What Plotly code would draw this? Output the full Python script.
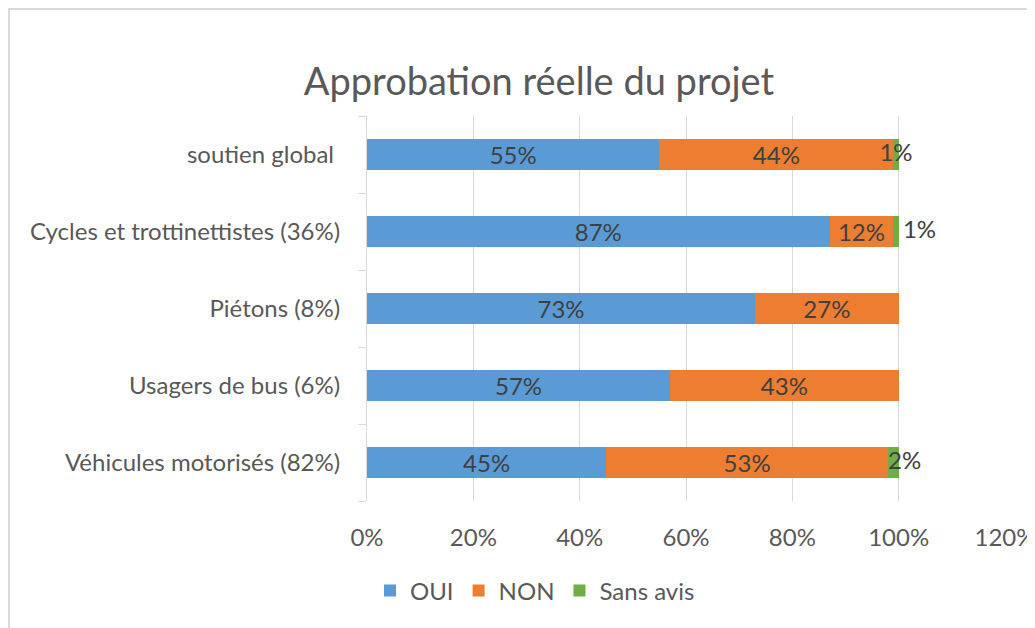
import plotly.graph_objects as go

categories = [
    "Véhicules motorisés (82%)",
    "Usagers de bus (6%)",
    "Piétons (8%)",
    "Cycles et trottinettistes (36%)",
    "soutien global ",
]
oui = [45, 57, 73, 87, 55]
non = [53, 43, 27, 12, 44]
sans_avis = [2, 0, 0, 1, 1]
x_ticks = [0, 20, 40, 60, 80, 100, 120]

BLUE = "#5B9BD5"
ORANGE = "#ED7D31"
GREEN = "#70AD47"
GRID = "#D9D9D9"
TXT = "#404040"
LBL = "#595959"
FONT = "Lato"

# page body keeps an 8px margin, so the figure is placed 8px in
W, H = 1045, 620
ML, MR, MT, MB = 359, 48, 108, 127

fig = go.Figure()
for name, vals, col in [("OUI", oui, BLUE), ("NON", non, ORANGE)]:
    fig.add_trace(go.Bar(
        y=categories, x=vals, name=name, orientation="h",
        marker=dict(color=col, line=dict(width=0)),
        text=[f"{v}%" for v in vals], textposition="inside",
        insidetextanchor="middle", constraintext="none",
        textfont=dict(family=FONT, size=24, color=TXT),
    ))
fig.add_trace(go.Bar(
    y=categories, x=sans_avis, name="Sans avis", orientation="h",
    marker=dict(color=GREEN, line=dict(width=0)),
    textposition="none",
))

# labels for the thin "Sans avis" segments
lbl_x, lbl_y, lbl_t, lbl_pos = [], [], [], []
for c, o, n, s in zip(categories, oui, non, sans_avis):
    if s == 0:
        continue
    if c.startswith("soutien"):
        lbl_x.append(o + n + s / 2)
        lbl_pos.append("middle center")
    elif c.startswith("Cycles"):
        lbl_x.append(o + n + s + 0.8)
        lbl_pos.append("middle right")
    else:
        lbl_x.append(o + n)
        lbl_pos.append("middle right")
    lbl_y.append(c)
    lbl_t.append(f"{s}%")
fig.add_trace(go.Scatter(
    x=lbl_x, y=lbl_y, text=lbl_t, mode="text", textposition=lbl_pos,
    textfont=dict(family=FONT, size=24, color=TXT),
    showlegend=False, hoverinfo="skip",
))

pw = W - ML - MR
ph = H - MT - MB
fig.add_shape(
    type="rect", xref="paper", yref="paper",
    x0=(1 - ML) / pw, x1=(W + 20 - ML) / pw,
    y0=-(H + 20 - MT - ph) / ph, y1=1 + (MT - 1) / ph,
    line=dict(color=GRID, width=2), layer="below",
)

fig.update_layout(
    width=W, height=H,
    barmode="stack", bargap=0.61,
    paper_bgcolor="white", plot_bgcolor="white",
    margin=dict(l=ML, r=MR, t=MT, b=MB),
    font=dict(family=FONT, color=LBL, size=24),
    title=dict(
        text="Approbation réelle du projet", x=(539 - 8) / W, xanchor="center",
        xref="container", y=1 - 74 / H, yanchor="middle",
        font=dict(family=FONT, size=38, color=LBL),
    ),
    xaxis=dict(
        range=[0, 120], tickvals=x_ticks,
        ticktext=[f"{v}%" for v in x_ticks],
        showgrid=True, gridcolor=GRID, gridwidth=1,
        zeroline=False, showline=False, ticks="",
        ticklabelstandoff=20,
        tickfont=dict(family=FONT, size=24, color=LBL),
        fixedrange=True,
    ),
    yaxis=dict(
        categoryorder="array", categoryarray=categories,
        showline=True, linecolor=GRID, linewidth=1,
        ticks="outside", tickson="boundaries", ticklen=8, tickcolor=GRID,
        ticklabelstandoff=21,
        showgrid=False,
        tickfont=dict(family=FONT, size=24, color=LBL),
        fixedrange=True,
    ),
    legend=dict(
        orientation="h", x=(535 - 8) / W, xref="container", xanchor="center",
        y=1 - 583 / H, yref="container", yanchor="middle",
        font=dict(family=FONT, size=24, color=LBL),
        itemwidth=30, traceorder="normal",
    ),
    showlegend=True,
)

fig.write_html("out.html")
